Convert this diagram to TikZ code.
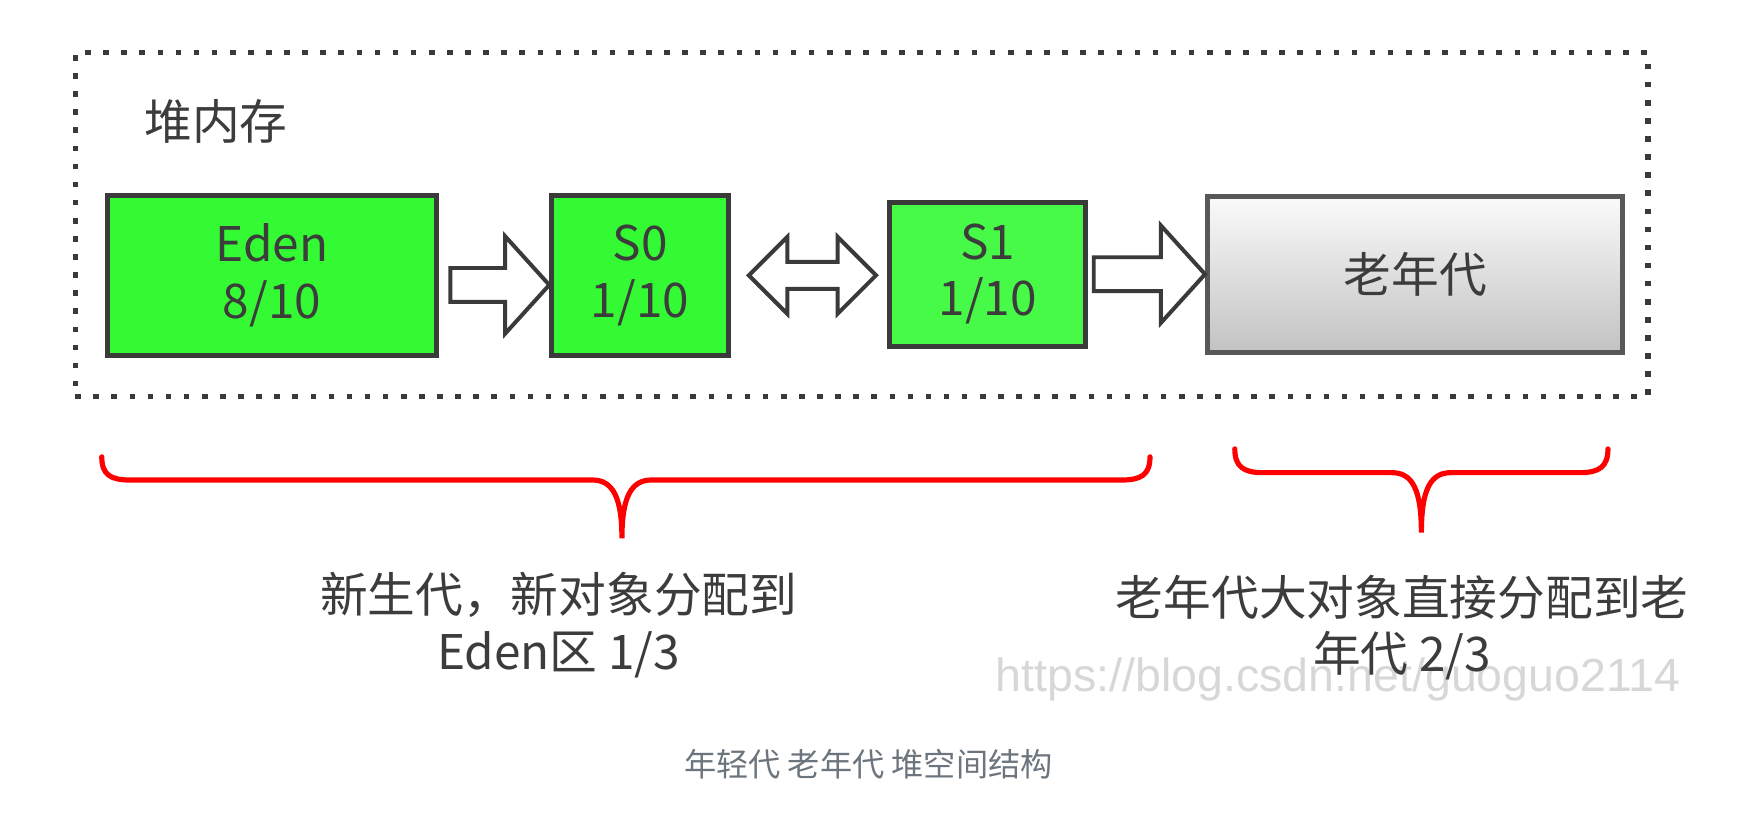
\documentclass[tikz,border=0pt]{standalone}
\usepackage{fontspec}
\setmainfont{Noto Sans CJK SC}
\newfontfamily\markfont{Liberation Sans}
\usetikzlibrary{calc}

\definecolor{boxgreen}{RGB}{51,250,51}
\definecolor{lightgreen}{RGB}{72,250,72}
\definecolor{edgegray}{RGB}{58,58,58}
\definecolor{textgray}{RGB}{60,60,60}
\definecolor{oldtop}{RGB}{250,250,250}
\definecolor{oldbottom}{RGB}{194,194,194}
\definecolor{bracered}{RGB}{255,0,0}
\definecolor{capgray}{RGB}{108,117,125}
\definecolor{markgray}{RGB}{215,215,215}

\tikzset{
  genbox/.style={draw=edgegray, line width=1.25pt, inner sep=0pt, align=center,
    text=textgray, font=\fontsize{12}{14.2}\selectfont},
  fat/.style={draw=edgegray, line width=1pt, fill=white, line join=miter},
  bracket/.style={draw=bracered, line width=1.3pt, line cap=round},
  heapline/.style={draw=edgegray, line width=1.4pt, dash pattern=on 1.4pt off 3.15pt},
  note/.style={align=center, text=textgray, font=\fontsize{12}{14.2}\selectfont},
}

% hollow block arrow from a tail point to a tip point
\newcommand\fatarrow[2]{%
  \draw[fat] ($(#1)+(0,-15)$) -- ($(#2)+(-39,-15)$) -- ($(#2)+(-39,-43)$) -- (#2)
    -- ($(#2)+(-39,43)$) -- ($(#2)+(-39,15)$) -- ($(#1)+(0,15)$) -- cycle;}

\begin{document}
\begin{tikzpicture}[x=0.01cm, y=-0.01cm]
  \useasboundingbox (0,0) rectangle (1560,730.5);

  % heap frame
  \node[heapline, minimum width=139mm, minimum height=30.4mm] (heap) at (762,198.5) {};
  \node[note, anchor=west, inner sep=0pt] (heaplabel) at (127,107) {堆内存};

  % draw boxes
  \node[genbox, fill=boxgreen, minimum width=29.1mm, minimum height=14.1mm] (eden) at (240.5,243.5) {Eden\\8/10};
  \node[genbox, fill=boxgreen, minimum width=15.6mm, minimum height=14.1mm] (s0) at (566,243.5) {S0\\1/10};
  \node[genbox, fill=lightgreen, minimum width=17.3mm, minimum height=12.7mm] (s1) at (873.5,242.5) {S1\\1/10};
  \node[genbox, draw=edgegray!85, top color=oldtop, bottom color=oldbottom,
    minimum width=36.7mm, minimum height=13.8mm] (old) at (1251.5,243) {老年代};

  % draw arrows
  \coordinate (t1) at ($(eden.east)+(10,8.5)$);
  \coordinate (h1) at ($(s0.west)+(0,8.5)$);
  \fatarrow{t1}{h1}

  \coordinate (d1) at ($(s0.east)+(16,0)$);
  \coordinate (d2) at ($(s0.east -| s1.west)+(-10,0)$);
  \draw[fat] (d1) -- ($(d1)+(34,-34)$) -- ($(d1)+(34,-12)$) -- ($(d2)+(-34,-12)$)
    -- ($(d2)+(-34,-34)$) -- (d2) -- ($(d2)+(-34,34)$) -- ($(d2)+(-34,12)$)
    -- ($(d1)+(34,12)$) -- ($(d1)+(34,34)$) -- cycle;

  \coordinate (t2) at ($(s1.east)+(5,0)$);
  \coordinate (h2) at (s1.east -| old.west);
  \fatarrow{t2}{h2}

  % draw braces
  \draw[bracket] (90,404) .. controls (90,420) and (98,424.5) .. (115,424.5) -- (524,424.5)
    .. controls (542,424.5) and (550,440) .. (550,476)
    .. controls (550,440) and (558,424.5) .. (576,424.5) -- (992,424.5)
    .. controls (1009,424.5) and (1017,420) .. (1017,404);
  \draw[bracket] (1092,397) .. controls (1092,413) and (1100,418) .. (1117,418) -- (1231,418)
    .. controls (1249,418) and (1257,433) .. (1257,471)
    .. controls (1257,433) and (1265,418) .. (1283,418) -- (1397,418)
    .. controls (1414,418) and (1422,413) .. (1422,397);

  % watermark and texts
  \node[anchor=west, inner sep=0pt, text=markgray, font=\markfont\fontsize{11.7}{14}\selectfont] (mark) at (880,601) {https://blog.csdn.net/guoguo2114};
  \node[note] (younglabel) at (494,553) {新生代，新对象分配到\\Eden区 1/3};
  \node[note] (oldlabel) at (1240,555) {老年代大对象直接分配到老\\年代 2/3};
  \node[text=capgray, font=\fontsize{8.1}{10}\selectfont] (caption) at (768,676) {年轻代 老年代 堆空间结构};
\end{tikzpicture}
\end{document}
